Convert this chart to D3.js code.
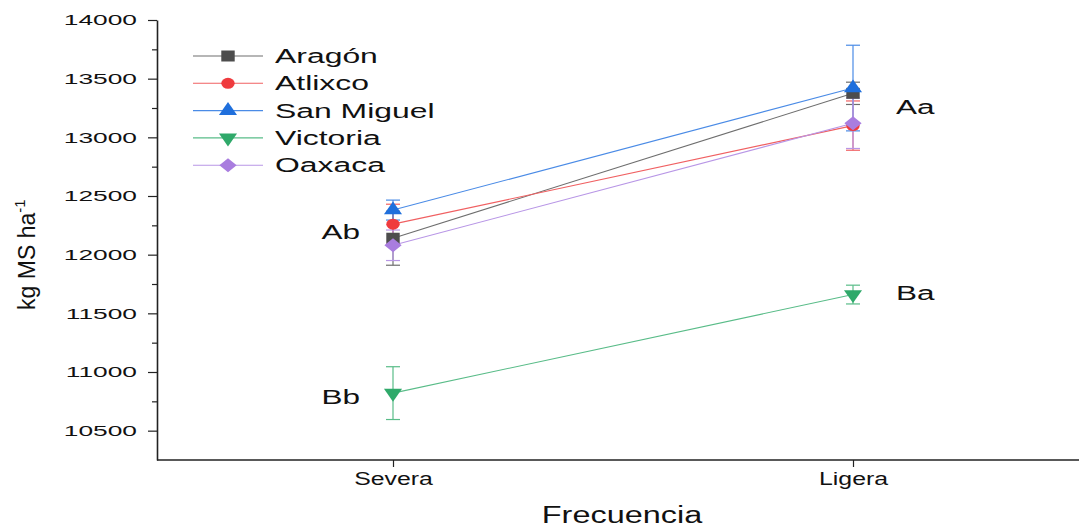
<!DOCTYPE html>
<html>
<head>
<meta charset="utf-8">
<script src="https://cdn.jsdelivr.net/npm/d3@7"></script>
<style>
  body { margin: 0; background: #fff; }
  text { font-family: "Liberation Sans", Arial, sans-serif; }
</style>
</head>
<body>
<svg id="chart" width="1079" height="529"></svg>
<script>
var categories = ["Severa", "Ligera"]
var seriesNames = ["Aragón", "Atlixco", "San Miguel", "Victoria", "Oaxaca"]
var seriesColors = ["#4d4d4d", "#ef3b3e", "#1f6fdc", "#2fa96a", "#a97ddf"]
var lineColors = ["#6e6e6e", "#f06062", "#4a8be6", "#59bc88", "#b896e6"]
var seriesShapes = ["square", "circle", "triangle", "triangleDown", "diamond"]

var aragon = [12140, 13375]
var atlixco = [12260, 13100]
var sanMiguel = [12380, 13420]
var victoria = [10820, 11660]
var oaxaca = [12080, 13120]

var aragonErr = [230, 95]
var atlixcoErr = [170, 210]
var sanMiguelErr = [85, 365]
var victoriaErr = [225, 80]
var oaxacaErr = [130, 215]

var letters = ["Ab", "Aa", "Bb", "Ba"]
var letterCategory = ["Severa", "Ligera", "Severa", "Ligera"]
var letterValue = [12190, 13255, 10790, 11670]

var yTicks = [10500, 11000, 11500, 12000, 12500, 13000, 13500, 14000]
var yMinorTicks = [10750, 11250, 11750, 12250, 12750, 13250, 13750]

var values = [aragon, atlixco, sanMiguel, victoria, oaxaca]
var errors = [aragonErr, atlixcoErr, sanMiguelErr, victoriaErr, oaxacaErr]

var dimensions = {
    width: 1079,
    height: 529,
    margin: { top: 20, bottom: 69, right: 0, left: 157 }
}
var stretch = 1.5   // the text in the picture is drawn wide

var svg = d3.select("#chart")

var xScale = d3.scalePoint()
    .domain(categories)
    .range([163, 1083])
    .padding(0.5)

var yScale = d3.scaleLinear()
    .domain([10250, 14000])
    .range([dimensions.height - dimensions.margin.bottom, dimensions.margin.top])

// minor ticks
svg.append("g")
    .attr("transform", `translate(${dimensions.margin.left},0)`)
    .call(d3.axisLeft(yScale).tickValues(yMinorTicks).tickSize(5).tickFormat(""))
    .call(g => g.select(".domain").remove())
    .selectAll("line").attr("stroke", "#222").attr("stroke-width", 1.2)

var yAxis = svg.append("g")
    .attr("transform", `translate(${dimensions.margin.left},0)`)
    .call(d3.axisLeft(yScale).tickValues(yTicks).tickSize(9).tickSizeOuter(0).tickPadding(10).tickFormat(d3.format("d")))
yAxis.select(".domain").attr("stroke", "#222").attr("stroke-width", 1.6)
yAxis.selectAll("line").attr("stroke", "#222").attr("stroke-width", 1.2)
yAxis.selectAll("text")
    .attr("font-size", 15.5).attr("fill", "#111")
    .attr("x", -20 / 1.7)
    .attr("transform", "scale(1.7,1)")
    .style("font-family", "Liberation Sans, Arial, sans-serif")

var xAxis = svg.append("g")
    .attr("transform", `translate(0,${dimensions.height - dimensions.margin.bottom})`)
    .call(d3.axisBottom(xScale).tickSize(7).tickSizeOuter(0).tickPadding(6))
xAxis.select(".domain").attr("stroke", "#222").attr("stroke-width", 1.6)
    .attr("d", `M${dimensions.margin.left},0H${dimensions.width}`)
xAxis.selectAll("line").attr("stroke", "#222").attr("stroke-width", 1.2)
xAxis.selectAll("text")
    .attr("font-size", 17.5).attr("fill", "#111")
    .attr("transform", "scale(1.42,1)")
    .style("font-family", "Liberation Sans, Arial, sans-serif")

svg.append("text")
    .attr("transform", `translate(622,523) scale(1.41,1)`)
    .attr("text-anchor", "middle")
    .attr("font-size", 23)
    .attr("fill", "#111")
    .text("Frecuencia")

var yLabel = svg.append("text")
    .attr("transform", `translate(35,${yScale(12000)}) rotate(-90)`)
    .attr("text-anchor", "middle")
    .attr("font-size", 23)
    .attr("fill", "#111")
yLabel.append("tspan").text("kg MS ha")
yLabel.append("tspan").attr("dy", -10).attr("font-size", 15).text("-1")

function markerPath(shape) {
    if (shape === "square") return d3.symbol().type(d3.symbolSquare).size(121)()
    if (shape === "circle") return d3.symbol().type(d3.symbolCircle).size(95)()
    if (shape === "diamond") return d3.symbol().type(d3.symbolSquare).size(100)()
    return d3.symbol().type(d3.symbolTriangle).size(95)()
}
function markerTransform(shape, x, y) {
    var t = `translate(${x},${y}) scale(1.22,1)`
    if (shape === "triangleDown") t += " rotate(180)"
    if (shape === "diamond") t += " rotate(45)"
    return t
}

// lines
values.forEach(function(vals, i) {
    var line = d3.line()
        .x((d, j) => xScale(categories[j]))
        .y(d => yScale(d))
    svg.append("path")
        .datum(vals)
        .attr("d", line)
        .attr("fill", "none")
        .attr("stroke", lineColors[i])
        .attr("stroke-width", 1.1)
})

// error bars
values.forEach(function(vals, i) {
    var g = svg.append("g")
    vals.forEach(function(v, j) {
        var x = xScale(categories[j])
        var e = errors[i][j]
        g.append("line")
            .attr("x1", x).attr("x2", x)
            .attr("y1", yScale(v - e)).attr("y2", yScale(v + e))
            .attr("stroke", lineColors[i]).attr("stroke-width", 1.2)
        ;[v - e, v + e].forEach(function(c) {
            g.append("line")
                .attr("x1", x - 7).attr("x2", x + 7)
                .attr("y1", yScale(c)).attr("y2", yScale(c))
                .attr("stroke", lineColors[i]).attr("stroke-width", 1.2)
        })
    })
})

// markers
values.forEach(function(vals, i) {
    svg.append("g")
        .selectAll("path")
        .data(vals)
        .enter()
        .append("path")
        .attr("d", markerPath(seriesShapes[i]))
        .attr("transform", (d, j) => markerTransform(seriesShapes[i], xScale(categories[j]), yScale(d)))
        .attr("fill", seriesColors[i])
})

// letters
svg.append("g")
    .selectAll("text")
    .data(letters)
    .enter()
    .append("text")
    .attr("transform", (d, i) => `translate(${xScale(letterCategory[i]) + (letterCategory[i] === "Severa" ? -33 : 43)},${yScale(letterValue[i]) + 7}) scale(${stretch},1)`)
    .attr("text-anchor", (d, i) => letterCategory[i] === "Severa" ? "end" : "start")
    .attr("font-size", 21)
    .attr("fill", "#111")
    .text(d => d)

// legend
var legend = svg.append("g").attr("transform", "translate(193,56)")
seriesNames.forEach(function(name, i) {
    var row = legend.append("g").attr("transform", `translate(0,${i * 27.3})`)
    row.append("line")
        .attr("x1", 0).attr("x2", 70)
        .attr("stroke", lineColors[i]).attr("stroke-width", 1.1)
    row.append("path")
        .attr("d", markerPath(seriesShapes[i]))
        .attr("transform", markerTransform(seriesShapes[i], 35, 0))
        .attr("fill", seriesColors[i])
    row.append("text")
        .attr("transform", `translate(82,7) scale(1.52,1)`)
        .attr("font-size", 21)
        .attr("fill", "#111")
        .text(name)
})
</script>
</body>
</html>
